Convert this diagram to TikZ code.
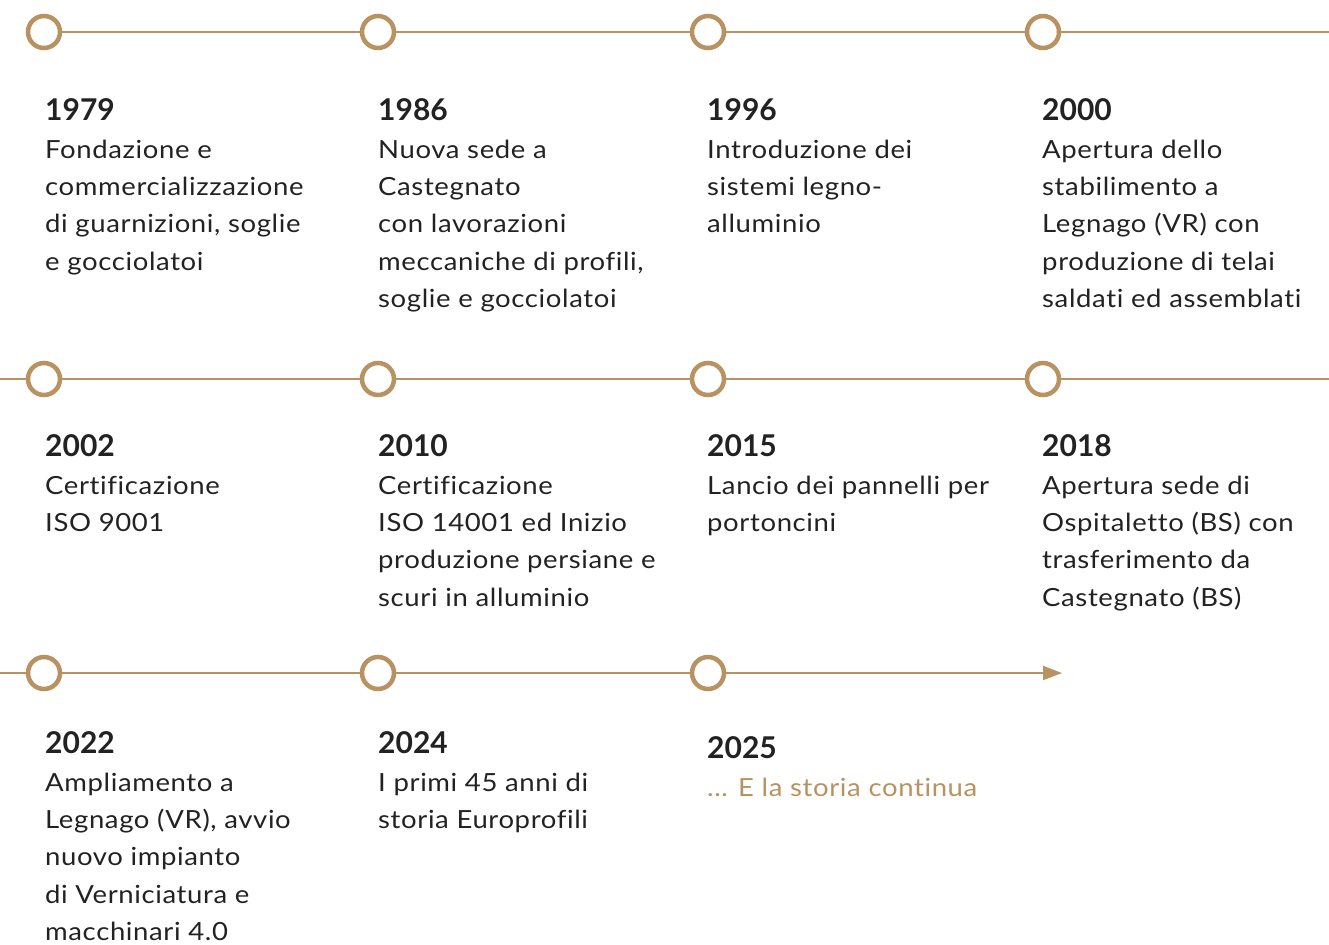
\documentclass[tikz,border=0pt]{standalone}
\usepackage{fontspec}
\setmainfont{Lato}[FakeStretch=1.1,LetterSpace=2.5,Ligatures=NoCommon]
\newfontfamily\yearfont{Lato}
\usetikzlibrary{arrows.meta}
\definecolor{gold}{RGB}{184,146,96}
\definecolor{ink}{RGB}{34,34,34}
\tikzset{
  dot/.style={circle,draw=gold,line width=4.5pt,fill=white,minimum size=32pt,inner sep=0pt},
  rail/.style={draw=gold,line width=2pt},
  entry/.style={anchor=north west,inner sep=0pt,align=left,text=ink,font=\fontsize{25}{37.4}\selectfont},
}
\newcommand{\yr}[1]{{\yearfont\fontsize{30}{36}\selectfont\bfseries #1}\\[0.6pt]}
\begin{document}
\begin{tikzpicture}[x=1pt,y=-1pt]
\useasboundingbox (0,0) rectangle (1329,944);
% milestones
\node (c1979) [dot] at (44,32) {};
\node (c1986) [dot] at (378,32) {};
\node (c1996) [dot] at (708,32) {};
\node (c2000) [dot] at (1043,32) {};
\node (c2002) [dot] at (44,379) {};
\node (c2010) [dot] at (378,379) {};
\node (c2015) [dot] at (708,379) {};
\node (c2018) [dot] at (1043,379) {};
\node (c2022) [dot] at (44,673) {};
\node (c2024) [dot] at (378,673) {};
\node (c2025) [dot] at (708,673) {};
\coordinate (r1) at (1329,32);
\coordinate (l2) at (0,379);
\coordinate (r2) at (1329,379);
\coordinate (l3) at (0,673);
\coordinate (e3) at (1062,673);
% rails
\draw [rail] (c1979) -- (c1986) -- (c1996) -- (c2000) -- (r1);
\draw [rail] (l2) -- (c2002) -- (c2010) -- (c2015) -- (c2018) -- (r2);
\draw [rail] (l3) -- (c2022) -- (c2024) -- (c2025);
\draw [rail,-{Triangle[length=19pt,width=14pt]}] (c2025) -- (e3);
% texts
\node (t1979) [entry] at (45,98) {\yr{1979}Fondazione e\\commercializzazione\\di guarnizioni, soglie\\e gocciolatoi};
\node (t1986) [entry] at (378,98) {\yr{1986}Nuova sede a\\Castegnato\\con lavorazioni\\meccaniche di profili,\\soglie e gocciolatoi};
\node (t1996) [entry] at (707,98) {\yr{1996}Introduzione dei\\sistemi legno-\\alluminio};
\node (t2000) [entry] at (1042,98) {\yr{2000}Apertura dello\\stabilimento a\\Legnago (VR) con\\produzione di telai\\saldati ed assemblati};
\node (t2002) [entry] at (45,434) {\yr{2002}Certificazione\\ISO 9001};
\node (t2010) [entry] at (378,434) {\yr{2010}Certificazione\\ISO 14001 ed Inizio\\produzione persiane e\\scuri in alluminio};
\node (t2015) [entry] at (707,434) {\yr{2015}Lancio dei pannelli per\\portoncini};
\node (t2018) [entry] at (1042,434) {\yr{2018}Apertura sede di\\Ospitaletto (BS) con\\trasferimento da\\Castegnato (BS)};
\node (t2022) [entry] at (45,731) {\yr{2022}Ampliamento a\\Legnago (VR), avvio\\nuovo impianto\\di Verniciatura e\\macchinari 4.0};
\node (t2024) [entry] at (378,731) {\yr{2024}I primi 45 anni di\\storia Europrofili};
\node (t2025) [entry] at (707,736) {\yr{2025}\textcolor{gold}{... E la storia continua}};
\end{tikzpicture}
\end{document}
